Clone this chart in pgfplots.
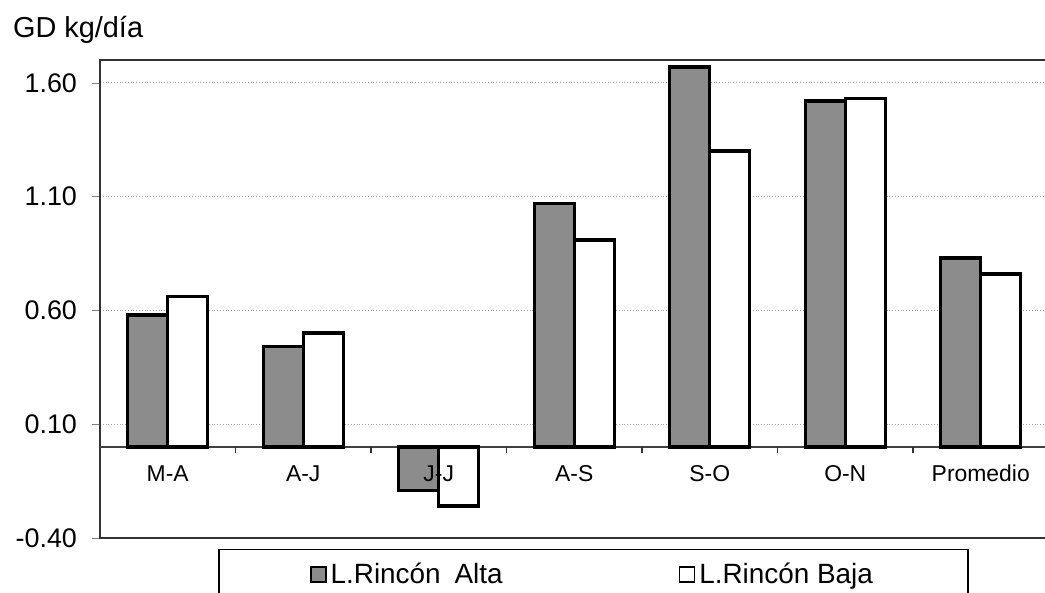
\documentclass[border=0pt]{standalone}
\usepackage{pgfplots}
\pgfplotsset{compat=1.18}
\usepackage{fontspec}
\setmainfont{Liberation Sans}

% GD kg/dia per period
\pgfplotstableread{
x alta baja
0 0.58 0.66
1 0.44 0.50
2 -0.19 -0.26
3 1.07 0.91
4 1.67 1.30
5 1.52 1.53
6 0.83 0.76
}\gdtable

\begin{document}
\begin{tikzpicture}
\begin{axis}[
    scale only axis,
    width=474.25bp, height=239bp,
    at={(0,0)}, anchor=south west,
    xmin=-0.5, xmax=6.5,
    ymin=-0.4, ymax=1.7,
    ybar=0pt, bar width=20bp,
    xtick=\empty,
    ytick={-0.4,0.1,0.6,1.1,1.6},
    ytick pos=left,
    tick align=outside,
    major tick length=4bp,
    y tick label style={font=\fontsize{13.5}{14}\selectfont, xshift=-4bp},
    /pgf/number format/.cd, fixed, fixed zerofill, precision=2, assume math mode=true,
    /pgfplots/.cd,
    ymajorgrids,
    major grid style={densely dotted, gray!70, line width=0.6pt},
    extra y ticks={0},
    extra y tick labels={},
    extra y tick style={major tick length=0pt, major grid style={solid, black!75, line width=0.7pt}},
    axis line style={black!80, line width=0.7pt},
    legend columns=2,
    legend style={
        at={(axis description cs:0.5203,-0.023)}, anchor=north,
        draw=black, line width=0.6pt,
        inner xsep=45.5bp, inner ysep=4.5bp,
        font=\fontsize{14}{16}\selectfont,
        /tikz/every even column/.append style={column sep=86bp},
    },
    legend image code/.code={\draw[#1, line width=0.8pt] (0bp,-3.75bp) rectangle (7.5bp,3.75bp);},
]
\addplot[draw=black, line width=1.7pt, fill=gray!90] table[x=x, y=alta] {\gdtable};
\addlegendentry{L.Rincón\hspace{0.5em}Alta}
\addplot[draw=black, line width=1.7pt, fill=white] table[x=x, y=baja] {\gdtable};
\addlegendentry{L.Rincón Baja}
\pgfplotsinvokeforeach{0.5,1.5,2.5,3.5,4.5,5.5}{
    \draw[black!80, line width=0.6pt] (axis cs:#1,0) -- ++(0pt,-3bp);
}
\begin{scope}[every node/.style={font=\fontsize{11.5}{12}\selectfont, anchor=base, yshift=-17.5bp}]
\node at (axis cs:0,0) {M-A};
\node at (axis cs:1,0) {A-J};
\node at (axis cs:2,0) {J-J};
\node at (axis cs:3,0) {A-S};
\node at (axis cs:4,0) {S-O};
\node at (axis cs:5,0) {O-N};
\node at (axis cs:6,0) {Promedio};
\end{scope}
\end{axis}
\node[anchor=west, font=\fontsize{14.5}{16}\selectfont] at (-47bp,254bp) {GD kg/día};
\pgfresetboundingbox
\useasboundingbox (-50bp,-27.5bp) rectangle (472.5bp,269bp);
\end{tikzpicture}
\end{document}
